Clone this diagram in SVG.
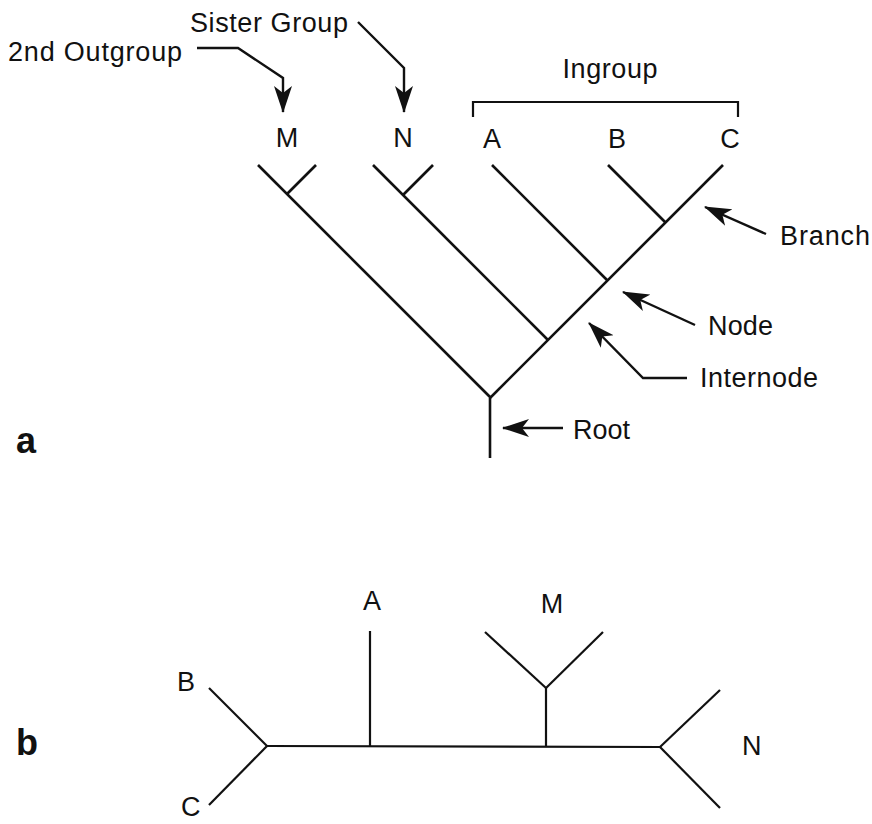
<svg xmlns="http://www.w3.org/2000/svg" width="872" height="824" viewBox="0 0 872 824">
<style>
.t{font-family:"Liberation Sans",Arial,sans-serif;font-size:27px;fill:#111}
.lb{font-family:"Liberation Sans",Arial,sans-serif;font-size:27px;fill:#111}
.pl{font-family:"Liberation Sans",Arial,sans-serif;font-size:36px;font-weight:bold;fill:#111}
.br{stroke:#111;stroke-width:2.6;fill:none;stroke-linecap:butt}
.br2{stroke:#111;stroke-width:2.2;fill:none}
.ar{stroke:#111;stroke-width:2.4;fill:none;marker-end:url(#ah)}
</style>
<defs>
<marker id="ah" markerUnits="userSpaceOnUse" markerWidth="28" markerHeight="20" refX="26" refY="10" orient="auto" viewBox="0 0 28 20">
<path d="M27,10 L0,1 L7,10 L0,19 Z" fill="#111"/>
</marker>
</defs>
<rect width="872" height="824" fill="#fff"/>

<g id="panel-a-label"><text class="pl" x="16" y="453">a</text></g>
<g id="panel-b-label"><text class="pl" x="16" y="755">b</text></g>

<!-- Tree a -->
<g id="tree-a-connectors">
<line class="br" x1="490" y1="398" x2="490" y2="458"/>
<line class="br" x1="258" y1="165" x2="490.5" y2="397.5"/>
<line class="br" x1="490" y1="398" x2="723" y2="165"/>
<line class="br" x1="316" y1="165" x2="287" y2="194"/>
<line class="br" x1="373" y1="165" x2="548" y2="340"/>
<line class="br" x1="433" y1="165" x2="403" y2="195"/>
<line class="br" x1="492" y1="165" x2="607.5" y2="280.5"/>
<line class="br" x1="608" y1="165" x2="665.5" y2="222.5"/>
<path class="br2" d="M473,117 V102 H738 V117"/>
</g>

<g id="tree-a-labels">
<g id="a-M"><text class="t" x="287" y="147" text-anchor="middle">M</text></g>
<g id="a-N"><text class="t" x="403" y="147" text-anchor="middle">N</text></g>
<g id="a-A"><text class="t" x="492" y="148" text-anchor="middle">A</text></g>
<g id="a-B"><text class="t" x="617" y="148" text-anchor="middle">B</text></g>
<g id="a-C"><text class="t" x="730" y="148" text-anchor="middle">C</text></g>
<g id="a-ingroup"><text class="t" x="610" y="78" text-anchor="middle" textLength="95" lengthAdjust="spacing">Ingroup</text></g>
</g>

<g id="annotations">
<g id="sister-group"><text class="t" x="190" y="32" textLength="158" lengthAdjust="spacing">Sister Group</text></g>
<g id="outgroup2"><text class="t" x="8" y="61" textLength="174" lengthAdjust="spacing">2nd Outgroup</text></g>
<g id="branch"><text class="t" x="780" y="245" textLength="90" lengthAdjust="spacing">Branch</text></g>
<g id="node"><text class="t" x="708" y="335" textLength="65" lengthAdjust="spacing">Node</text></g>
<g id="internode"><text class="t" x="700" y="387" textLength="118" lengthAdjust="spacing">Internode</text></g>
<g id="root"><text class="t" x="573" y="439" textLength="57" lengthAdjust="spacing">Root</text></g>
</g>

<g id="annotation-arrows">
<polyline class="ar" points="197,48 238,48 283,78 283,112"/>
<polyline class="ar" points="358,22 404,68 404,112"/>
<line class="ar" x1="766" y1="234" x2="705" y2="207"/>
<line class="ar" x1="695" y1="325" x2="623" y2="292"/>
<polyline class="ar" points="687,378 643,378 589,323"/>
<line class="ar" x1="563" y1="428" x2="503" y2="428"/>
</g>

<!-- Tree b -->
<g id="tree-b-connectors">
<line class="br2" x1="267" y1="746" x2="660" y2="747"/>
<line class="br2" x1="209" y1="688" x2="267" y2="746"/>
<line class="br2" x1="267" y1="746" x2="209" y2="805"/>
<line class="br2" x1="370" y1="631" x2="370" y2="746"/>
<line class="br2" x1="546" y1="688" x2="546" y2="746"/>
<line class="br2" x1="485" y1="632" x2="546" y2="688"/>
<line class="br2" x1="603" y1="632" x2="546" y2="688"/>
<line class="br2" x1="660" y1="747" x2="720" y2="690"/>
<line class="br2" x1="660" y1="747" x2="720" y2="808"/>
</g>

<g id="tree-b-labels">
<g id="b-A"><text class="lb" x="372" y="610" text-anchor="middle">A</text></g>
<g id="b-B"><text class="lb" x="177" y="691">B</text></g>
<g id="b-C"><text class="lb" x="181" y="816">C</text></g>
<g id="b-M"><text class="lb" x="552" y="613" text-anchor="middle">M</text></g>
<g id="b-N"><text class="lb" x="742" y="755">N</text></g>
</g>
</svg>
